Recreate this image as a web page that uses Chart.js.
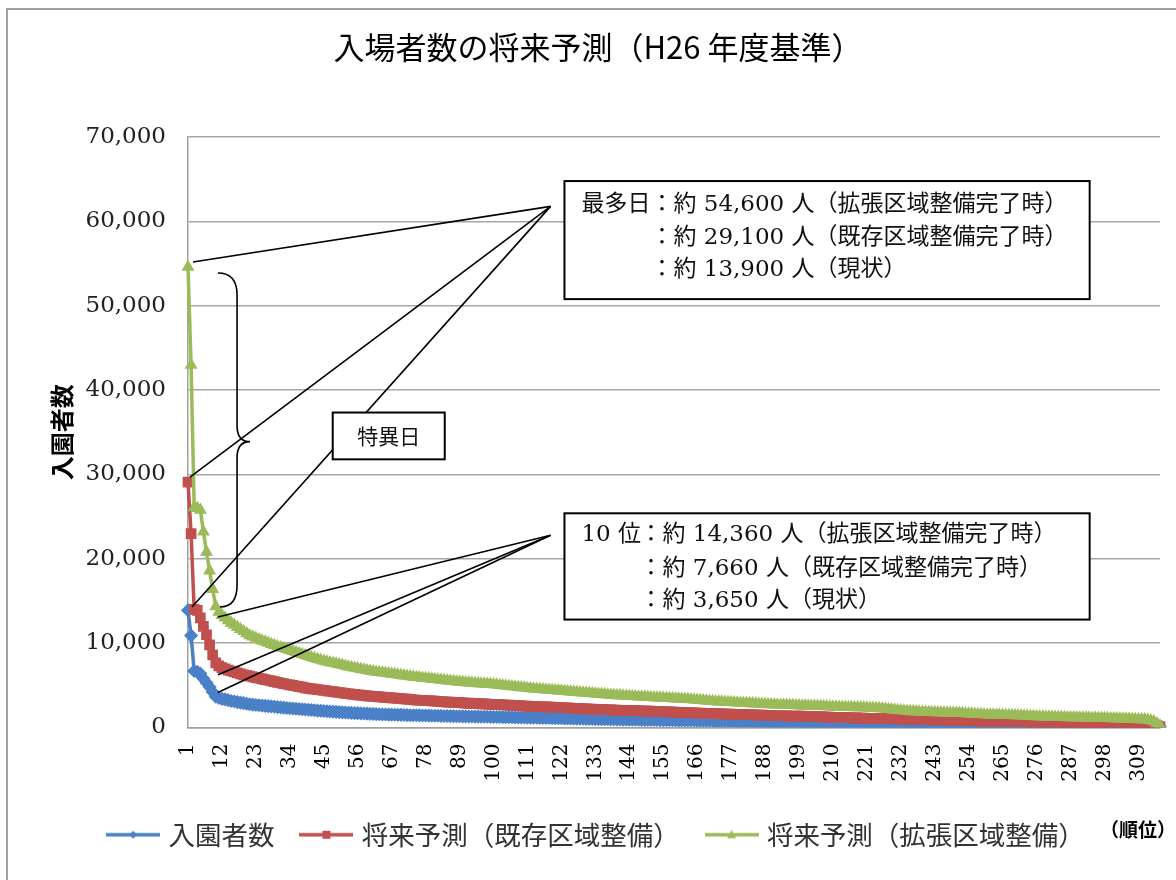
<!DOCTYPE html>
<html lang="ja">
<head>
<meta charset="utf-8">
<title>入場者数の将来予測</title>
<script src="https://cdn.jsdelivr.net/npm/chart.js@4.4.1/dist/chart.umd.min.js"></script>
<style>
  html, body { margin: 0; padding: 0; background: #fff; }
  #wrap { width: 1176px; height: 880px; }
</style>
</head>
<body>
<div id="wrap"><canvas id="myChart" width="1176" height="880"></canvas></div>
<script>
// 入園者数（現状）by rank, 1..316
const visitors = [
  13900, 10900, 6700, 6600, 6400, 5800, 5300, 4800, 4200, 3650,
  3500, 3400, 3330, 3240, 3150, 3080, 3010, 2950, 2890, 2820,
  2750, 2710, 2670, 2640, 2600, 2570, 2530, 2500, 2460, 2420,
  2390, 2350, 2320, 2290, 2260, 2230, 2200, 2170, 2140, 2110,
  2080, 2040, 2000, 1980, 1950, 1930, 1900, 1880, 1860, 1830,
  1800, 1780, 1750, 1730, 1710, 1700, 1680, 1660, 1640, 1620,
  1610, 1590, 1570, 1550, 1540, 1530, 1520, 1510, 1500, 1490,
  1480, 1470, 1460, 1455, 1450, 1440, 1430, 1420, 1410, 1400,
  1395, 1390, 1380, 1370, 1360, 1350, 1345, 1340, 1330, 1320,
  1315, 1310, 1300, 1295, 1290, 1280, 1275, 1270, 1260, 1250,
  1245, 1240, 1230, 1220, 1215, 1210, 1200, 1190, 1185, 1180,
  1170, 1165, 1160, 1150, 1140, 1135, 1130, 1120, 1110, 1100,
  1095, 1090, 1080, 1070, 1060, 1055, 1050, 1040, 1030, 1025,
  1020, 1010, 1000, 995, 990, 980, 975, 970, 960, 950,
  945, 940, 935, 930, 925, 920, 915, 910, 905, 900,
  895, 890, 885, 880, 875, 870, 865, 860, 855, 850,
  845, 840, 835, 830, 825, 820, 810, 805, 800, 795,
  790, 785, 780, 775, 770, 765, 760, 755, 750, 750,
  745, 740, 730, 720, 710, 700, 695, 690, 685, 680,
  675, 670, 665, 660, 655, 650, 645, 640, 640, 635,
  630, 625, 620, 620, 615, 610, 605, 600, 600, 595,
  590, 590, 585, 580, 580, 575, 575, 570, 570, 565,
  560, 560, 555, 550, 545, 540, 535, 530, 525, 520,
  515, 510, 505, 500, 495, 490, 485, 480, 475, 470,
  470, 465, 465, 460, 460, 455, 455, 450, 450, 445,
  440, 435, 430, 425, 420, 415, 410, 405, 400, 400,
  395, 395, 390, 390, 385, 385, 380, 380, 380, 375,
  370, 365, 360, 355, 350, 345, 340, 335, 330, 325,
  320, 320, 315, 315, 310, 310, 305, 305, 300, 300,
  295, 295, 290, 290, 285, 285, 280, 280, 275, 275,
  270, 270, 265, 265, 260, 260, 255, 250, 245, 240,
  240, 230, 210, 180, 130, 60
];

// 将来予測（既存区域整備）
const forecastExisting = [
  29100, 23000, 14000, 13900, 13000, 12000, 11000, 9800, 8600, 7660,
  7300, 7100, 6950, 6800, 6700, 6580, 6470, 6360, 6250, 6170,
  6100, 6010, 5920, 5840, 5760, 5680, 5600, 5520, 5440, 5360,
  5280, 5200, 5130, 5060, 4990, 4920, 4850, 4780, 4710, 4640,
  4580, 4540, 4500, 4450, 4400, 4350, 4300, 4250, 4200, 4150,
  4100, 4050, 4000, 3960, 3920, 3880, 3840, 3800, 3760, 3720,
  3690, 3660, 3630, 3600, 3570, 3540, 3510, 3480, 3450, 3420,
  3390, 3360, 3330, 3290, 3250, 3230, 3210, 3190, 3170, 3150,
  3120, 3090, 3060, 3030, 3010, 3000, 2980, 2960, 2940, 2920,
  2900, 2880, 2860, 2850, 2830, 2810, 2800, 2780, 2760, 2750,
  2730, 2710, 2690, 2670, 2650, 2630, 2610, 2590, 2570, 2550,
  2530, 2510, 2500, 2480, 2460, 2450, 2440, 2420, 2410, 2400,
  2380, 2360, 2340, 2320, 2300, 2280, 2260, 2240, 2220, 2200,
  2190, 2170, 2150, 2140, 2130, 2110, 2100, 2080, 2060, 2050,
  2040, 2030, 2020, 2010, 2000, 1990, 1980, 1970, 1960, 1950,
  1940, 1920, 1910, 1900, 1880, 1870, 1860, 1840, 1820, 1800,
  1790, 1780, 1760, 1750, 1740, 1720, 1700, 1690, 1680, 1660,
  1650, 1640, 1620, 1610, 1600, 1590, 1580, 1570, 1560, 1550,
  1540, 1530, 1510, 1500, 1490, 1470, 1460, 1450, 1430, 1420,
  1410, 1400, 1390, 1380, 1370, 1360, 1360, 1350, 1350, 1340,
  1330, 1320, 1300, 1290, 1280, 1260, 1250, 1240, 1220, 1210,
  1200, 1190, 1180, 1170, 1160, 1150, 1140, 1130, 1120, 1110,
  1100, 1100, 1090, 1090, 1080, 1070, 1060, 1050, 1040, 1030,
  1020, 1010, 1000, 990, 980, 970, 960, 950, 940, 930,
  920, 910, 905, 900, 895, 890, 880, 870, 860, 850,
  840, 830, 820, 810, 800, 790, 780, 770, 760, 750,
  745, 740, 735, 730, 725, 720, 715, 710, 705, 700,
  690, 680, 670, 660, 650, 645, 640, 635, 630, 625,
  620, 615, 610, 605, 600, 595, 590, 585, 580, 575,
  570, 565, 560, 555, 550, 545, 540, 530, 520, 510,
  500, 495, 490, 485, 480, 475, 470, 465, 460, 455,
  450, 430, 400, 350, 250, 120
];

// 将来予測（拡張区域整備）
const forecastExpanded = [
  54600, 43000, 26100, 26000, 25800, 23200, 20800, 18600, 16400, 14360,
  13700, 13300, 13000, 12700, 12400, 12150, 11900, 11650, 11400, 11150,
  10900, 10750, 10600, 10450, 10300, 10160, 10020, 9880, 9740, 9600,
  9500, 9400, 9280, 9160, 9040, 8920, 8800, 8680, 8560, 8440,
  8320, 8210, 8100, 8000, 7900, 7810, 7720, 7640, 7560, 7480,
  7400, 7300, 7200, 7130, 7060, 6990, 6920, 6850, 6780, 6710,
  6640, 6590, 6540, 6500, 6450, 6400, 6350, 6300, 6250, 6200,
  6150, 6100, 6050, 6000, 5960, 5920, 5880, 5840, 5800, 5760,
  5720, 5680, 5640, 5600, 5550, 5500, 5470, 5440, 5410, 5380,
  5350, 5320, 5290, 5260, 5230, 5200, 5180, 5160, 5130, 5100,
  5060, 5020, 4980, 4940, 4900, 4860, 4820, 4780, 4740, 4700,
  4660, 4620, 4590, 4560, 4530, 4500, 4480, 4460, 4430, 4400,
  4370, 4340, 4310, 4280, 4250, 4220, 4190, 4160, 4130, 4100,
  4070, 4040, 4010, 3980, 3950, 3920, 3890, 3860, 3830, 3800,
  3780, 3760, 3740, 3720, 3700, 3680, 3660, 3640, 3620, 3600,
  3580, 3560, 3540, 3520, 3500, 3480, 3460, 3440, 3420, 3400,
  3380, 3360, 3340, 3310, 3280, 3250, 3220, 3190, 3160, 3130,
  3100, 3080, 3060, 3040, 3020, 3000, 2980, 2960, 2940, 2920,
  2900, 2880, 2860, 2840, 2820, 2800, 2780, 2760, 2740, 2720,
  2700, 2690, 2680, 2670, 2660, 2650, 2640, 2620, 2600, 2590,
  2580, 2570, 2560, 2550, 2540, 2530, 2510, 2490, 2470, 2450,
  2440, 2430, 2420, 2410, 2400, 2390, 2380, 2370, 2365, 2360,
  2340, 2320, 2300, 2280, 2260, 2240, 2200, 2160, 2120, 2080,
  2040, 2010, 1980, 1950, 1920, 1900, 1880, 1860, 1840, 1820,
  1810, 1800, 1790, 1780, 1770, 1760, 1750, 1740, 1730, 1720,
  1700, 1680, 1660, 1640, 1620, 1600, 1580, 1560, 1540, 1520,
  1510, 1500, 1490, 1480, 1470, 1460, 1450, 1440, 1430, 1420,
  1400, 1380, 1360, 1340, 1320, 1300, 1290, 1280, 1270, 1260,
  1250, 1240, 1230, 1220, 1210, 1200, 1195, 1190, 1185, 1180,
  1170, 1160, 1150, 1140, 1130, 1120, 1110, 1100, 1090, 1080,
  1070, 1060, 1050, 1040, 1030, 1010, 990, 970, 960, 950,
  940, 900, 820, 700, 480, 220
];

const seriesNames = ['入園者数', '将来予測（既存区域整備）', '将来予測（拡張区域整備）'];
const ranks = visitors.map((_, i) => String(i + 1));
const yTicks = [0, 10000, 20000, 30000, 40000, 50000, 60000, 70000];

const SERIF = '"DejaVu Serif", "Noto Sans CJK JP", serif';
const SANS = '"Noto Sans CJK JP", sans-serif';
const BLUE = '#4A80C8';
const RED = '#C0504D';
const GREEN = '#9BBB59';

// callouts, positioned in data space (rank index, visitors)
const callouts = [
  {
    box: [122, 64800, 292.2, 50800],
    hub: [117.5, 61800],
    ends: [[1.6, 55200], [0.65, 29700], [1.3, 14300]],
    head: '最多日', headDx: 17, bodyDx: 86, rowsDy: [24, 57, 89],
    rows: ['：約 54,600 人（拡張区域整備完了時）', '：約 29,100 人（既存区域整備完了時）', '：約 13,900 人（現状）']
  },
  {
    box: [122, 25400, 292.2, 12800],
    hub: [117.5, 22800],
    ends: [[9.7, 13100], [9.7, 6250], [9.7, 4150]],
    head: '10 位', headDx: 17, bodyDx: 75, rowsDy: [22, 56, 88],
    rows: ['：約 14,360 人（拡張区域整備完了時）', '：約 7,660 人（既存区域整備完了時）', '：約 3,650 人（現状）']
  }
];

function legendIcon(color, shape) {
  const c = document.createElement('canvas');
  c.width = 54; c.height = 14;
  const g = c.getContext('2d');
  g.strokeStyle = color; g.fillStyle = color; g.lineWidth = 3.5;
  g.beginPath(); g.moveTo(0, 7); g.lineTo(54, 7); g.stroke();
  g.beginPath();
  if (shape === 'diamond') { g.moveTo(27, 3); g.lineTo(31, 7); g.lineTo(27, 11); g.lineTo(23, 7); }
  else if (shape === 'square') { g.rect(23, 3, 8, 8); }
  else { g.moveTo(27, 2); g.lineTo(31.5, 10.5); g.lineTo(22.5, 10.5); }
  g.closePath(); g.fill();
  return c;
}
const icons = [legendIcon(BLUE, 'diamond'), legendIcon(RED, 'square'), legendIcon(GREEN, 'triangle')];

const notesPlugin = {
  id: 'notes',
  afterDraw(chart) {
    const {ctx, scales: {x, y}} = chart;
    const at = (i, v) => [x.getPixelForValue(i), y.getPixelForValue(v)];
    ctx.save();

    // outer frame
    ctx.strokeStyle = '#a0a0a0';
    ctx.lineWidth = 2;
    ctx.beginPath(); ctx.moveTo(7, 880); ctx.lineTo(7, 9); ctx.lineTo(1176, 9); ctx.stroke();

    // leader lines
    ctx.strokeStyle = '#000';
    ctx.lineWidth = 1.6;
    callouts.forEach(c => {
      const [hx, hy] = at(...c.hub);
      c.ends.forEach(e => {
        const [ex, ey] = at(...e);
        ctx.beginPath(); ctx.moveTo(hx, hy); ctx.lineTo(ex, ey); ctx.stroke();
      });
    });

    // curly brace
    const [bx0, by0] = at(9.7, 53900);
    const [sx] = at(15.9, 0);
    const [tx, ty] = at(20.1, 33900);
    const [bx1, by1] = at(10.4, 14300);
    ctx.beginPath();
    ctx.moveTo(bx0, by0);
    ctx.quadraticCurveTo(sx, by0, sx, by0 + 22);
    ctx.lineTo(sx, ty - 16);
    ctx.quadraticCurveTo(sx, ty, tx, ty);
    ctx.quadraticCurveTo(sx, ty, sx, ty + 16);
    ctx.lineTo(sx, by1 - 22);
    ctx.quadraticCurveTo(sx, by1, bx1, by1);
    ctx.stroke();

    // text boxes
    ctx.lineWidth = 2;
    ctx.textBaseline = 'middle';
    ctx.textAlign = 'left';
    ctx.font = '23px ' + SERIF;
    callouts.forEach(c => {
      const [l, t] = at(c.box[0], c.box[1]);
      const [r, b] = at(c.box[2], c.box[3]);
      ctx.fillStyle = '#fff';
      ctx.fillRect(l, t, r - l, b - t);
      ctx.strokeRect(l, t, r - l, b - t);
      ctx.fillStyle = '#111';
      ctx.fillText(c.head, l + c.headDx, t + c.rowsDy[0]);
      c.rows.forEach((row, k) => ctx.fillText(row, l + c.bodyDx, t + c.rowsDy[k]));
    });

    // 特異日
    const [l3, t3] = at(46.9, 37350);
    const [r3, b3] = at(83.2, 31800);
    ctx.fillStyle = '#fff';
    ctx.fillRect(l3, t3, r3 - l3, b3 - t3);
    ctx.strokeRect(l3, t3, r3 - l3, b3 - t3);
    ctx.fillStyle = '#111';
    ctx.font = '21px ' + SANS;
    ctx.textAlign = 'center';
    ctx.fillText('特異日', (l3 + r3) / 2, (t3 + b3) / 2);

    // axis unit
    ctx.textAlign = 'left';
    ctx.fillStyle = '#000';
    ctx.font = 'bold 19px ' + SANS;
    ctx.fillText('（順位）', 1100, 830);
    ctx.restore();
  }
};

const ctx = document.getElementById('myChart').getContext('2d');
new Chart(ctx, {
  type: 'line',
  data: {
    labels: ranks,
    datasets: [
      { label: seriesNames[0], data: visitors, borderColor: BLUE, backgroundColor: BLUE,
        pointStyle: 'rectRot', pointRadius: 6, order: 3 },
      { label: seriesNames[1], data: forecastExisting, borderColor: RED, backgroundColor: RED,
        pointStyle: 'rect', pointRadius: 6.5, order: 2 },
      { label: seriesNames[2], data: forecastExpanded, borderColor: GREEN, backgroundColor: GREEN,
        pointStyle: 'triangle', pointRadius: 6, order: 1 }
    ]
  },
  options: {
    responsive: false,
    animation: false,
    layout: { padding: { left: 36, right: 16, top: 0, bottom: 22 } },
    elements: {
      line: { borderWidth: 3.5, tension: 0 },
      point: { borderWidth: 1.5, hoverRadius: 6 }
    },
    plugins: {
      title: {
        display: true,
        text: '入場者数の将来予測（H26 年度基準）',
        color: '#000',
        font: { family: SANS, size: 31, weight: 'normal' },
        padding: { top: 29, bottom: 71 }
      },
      legend: {
        position: 'bottom',
        labels: {
          usePointStyle: true,
          pointStyleWidth: 44,
          padding: 30,
          color: '#333',
          font: { family: SANS, size: 26.5 },
          sort: (a, b) => a.datasetIndex - b.datasetIndex,
          generateLabels(chart) {
            const items = Chart.defaults.plugins.legend.labels.generateLabels(chart);
            items.forEach(it => { it.pointStyle = icons[it.datasetIndex]; });
            return items;
          }
        }
      },
      tooltip: { enabled: false }
    },
    scales: {
      x: {
        offset: false,
        grid: { display: false },
        border: { display: true, color: '#a0a0a0', width: 1.5 },
        afterFit(s) { s.height = 64; s.paddingRight = 0; },
        ticks: {
          autoSkip: false,
          minRotation: 90,
          maxRotation: 90,
          padding: 8,
          color: '#000',
          font: { family: SERIF, size: 20 },
          callback: (value, index) => (index % 11 === 0 ? ranks[index] : '')
        }
      },
      y: {
        min: yTicks[0],
        max: yTicks[yTicks.length - 1],
        afterFit(s) { s.width = 152; },
        grid: { color: '#a6a6a6', lineWidth: 1.5, drawTicks: false },
        border: { display: true, color: '#a0a0a0', width: 1.5 },
        title: {
          display: true,
          text: '入園者数',
          color: '#000',
          font: { family: SANS, size: 24, weight: 'bold' },
          padding: { top: 11, bottom: 0 }
        },
        ticks: {
          stepSize: 10000,
          padding: 22,
          color: '#222',
          font: { family: SERIF, size: 23 },
          callback: v => v.toLocaleString('en-US')
        }
      }
    }
  },
  plugins: [notesPlugin]
});
</script>
</body>
</html>
